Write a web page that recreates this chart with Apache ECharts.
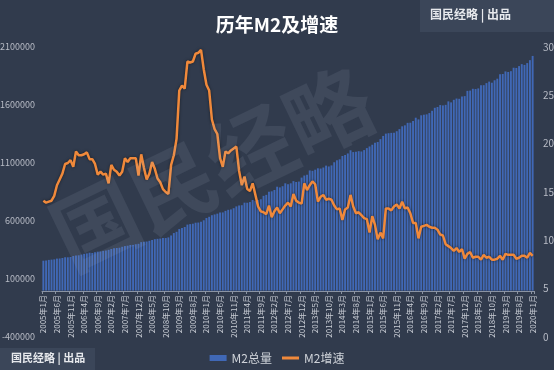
<!DOCTYPE html>
<html>
<head>
<meta charset="utf-8">
<script src="https://cdn.jsdelivr.net/npm/echarts@6/dist/echarts.min.js"></script>
<style>
html,body{margin:0;padding:0;background:#313b4d;}
#chart{width:554px;height:370px;}
</style>
</head>
<body>
<div id="chart"></div>
<script>
// Month labels 2005年1月 .. 2020年1月
const startYear = 2005, endYear = 2020;
const categories = [];
for (let y = startYear; y <= endYear; y++) {
  for (let m = 1; m <= 12; m++) {
    if (y === endYear && m > 1) break;
    categories.push(y + '年' + m + '月');
  }
}

// M2 总量 (亿元), monthly 2005-01 .. 2020-01
const m2Total = [
  257709,259358,264589,266992,269240,275786,276966,281287,287438,286973,289524,298756,
  303572,304516,310491,316710,320590,326660,324011,331565,335831,337504,342136,345604,
  351499,358659,364105,367326,369718,377832,383885,387205,393099,394204,399758,403442,
  417846,421038,423055,429314,436222,443141,446362,448847,452899,453133,458645,475167,
  496135,506708,530627,540481,548264,568916,573103,576698,585405,586643,594605,606225,
  625609,636072,649948,656561,663351,673922,674052,687507,696472,699777,710339,725852,
  733885,736131,758131,757385,763409,780821,772924,780852,787406,816829,825494,851591,
  855899,867171,895566,889604,900049,924991,917321,924895,943689,936404,940012,974149,
  992129,998601,1035858,1032552,1042169,1054404,1052212,1061256,1077379,1070242,1079258,1106525,
  1123521,1131761,1160687,1168813,1182300,1209587,1194249,1197499,1202051,1199236,1211337,1228375,
  1242710,1257384,1275333,1280778,1305868,1333375,1353211,1356908,1359824,1361022,1373956,1392278,
  1416320,1424619,1446198,1447359,1461695,1490492,1475996,1511223,1516361,1519473,1530359,1550067,
  1575946,1582906,1599610,1596331,1601381,1631283,1622631,1644558,1655662,1653437,1672964,1676769,
  1722103,1724326,1739860,1737682,1743064,1770178,1770968,1788670,1801665,1792113,1813164,1826744,
  1865935,1867428,1889412,1884670,1891554,1921360,1919411,1935492,1952251,1945601,1961417,1986489,
  2023067
];

// M2 增速 (%), monthly 2005-01 .. 2020-01
const m2Growth = [
  14.1,13.9,14.0,14.1,14.6,15.7,16.3,16.9,17.9,18.0,18.3,17.6,
  19.2,18.8,18.8,18.9,19.1,18.4,18.4,17.9,16.8,17.1,16.8,16.9,
  15.9,17.8,17.3,17.1,16.7,17.1,18.5,18.1,18.5,18.5,18.5,16.7,
  18.9,17.5,16.3,16.9,18.1,17.4,16.4,16.0,15.3,15.0,14.8,17.8,
  18.8,20.5,25.5,26.0,25.7,28.5,28.4,28.5,29.3,29.4,29.7,27.7,
  26.1,25.5,22.5,21.5,21.0,18.5,17.6,19.2,19.0,19.3,19.5,19.7,
  17.2,15.7,16.6,15.3,15.1,15.9,14.7,13.5,13.0,12.9,12.7,13.6,
  12.4,13.0,13.4,12.8,13.2,13.6,13.9,13.5,14.8,14.1,13.9,13.8,
  15.9,15.2,15.7,16.1,15.8,14.0,14.5,14.7,14.2,14.3,14.2,13.6,
  13.2,13.3,12.1,13.2,13.4,14.7,13.5,12.8,12.9,12.6,12.3,12.2,
  10.8,12.5,11.6,10.1,10.8,10.2,13.3,13.3,13.1,13.5,13.7,13.3,
  14.0,13.3,13.4,12.8,11.8,11.8,10.2,11.4,11.5,11.6,11.4,11.3,
  11.3,11.1,10.6,10.5,9.6,9.4,9.2,8.9,9.2,8.8,9.1,8.1,
  8.6,8.8,8.2,8.3,8.3,8.0,8.5,8.2,8.3,8.0,8.0,8.1,
  8.4,8.0,8.6,8.5,8.5,8.5,8.1,8.2,8.4,8.4,8.2,8.7,
  8.4
];

const seriesNames = ['M2总量', 'M2增速'];
const titleText = '历年M2及增速';
const brandText = '国民经略 | 出品';
const watermarkText = '国民经略';

const chart = echarts.init(document.getElementById('chart'));
const font = '"Noto Sans CJK SC", sans-serif';

chart.setOption({
  backgroundColor: '#313b4d',
  animation: false,
  textStyle: { fontFamily: font },
  title: {
    text: titleText,
    left: 'center',
    top: 10,
    textStyle: { color: '#ffffff', fontSize: 19, fontWeight: 'bold', fontFamily: font }
  },
  graphic: [
    { type: 'rect', left: 420, top: 0, shape: { width: 134, height: 32 }, style: { fill: '#3b4659' }, z: 0 },
    { type: 'text', left: 430, top: 8, style: { text: brandText, fill: '#e6e8ec', font: 'bold 12px "Noto Sans CJK SC"' }, z: 1 },
    { type: 'rect', left: 0, top: 348, shape: { width: 95, height: 22 }, style: { fill: '#3b4659' }, z: 0 },
    { type: 'text', left: 11, top: 352, style: { text: brandText, fill: '#e6e8ec', font: 'bold 11px "Noto Sans CJK SC"' }, z: 1 },
    { type: 'text', x: 212, y: 168, rotation: 0.45,
      style: { text: watermarkText, fill: 'rgba(190,200,215,0.10)', font: 'bold 86px "Noto Sans CJK SC"',
               align: 'center', verticalAlign: 'middle' }, z: 100, silent: true }
  ],
  legend: {
    data: [
      { name: seriesNames[0], icon: 'rect' },
      { name: seriesNames[1], icon: 'path://M0,0 L17,0 L17,3 L0,3 Z', itemStyle: { color: '#f0893b' } }
    ],
    left: 'center',
    top: 347,
    itemWidth: 17,
    itemHeight: 6,
    itemGap: 10,
    symbolKeepAspect: true,
    textStyle: { color: '#d0d4da', fontSize: 12, fontFamily: font }
  },
  grid: { left: 42, right: 20, top: 47, bottom: 33, containLabel: false, outerBoundsMode: 'none' },
  xAxis: {
    type: 'category',
    data: categories,
    offset: -46,
    axisLine: { onZero: false, lineStyle: { color: '#8a93a3', width: 1 } },
    axisTick: { show: true, interval: 4, length: 3, lineStyle: { color: '#8a93a3' } },
    axisLabel: {
      interval: 4,
      rotate: 90,
      fontSize: 8,
      margin: 4,
      color: '#c8ccd4',
      fontFamily: font
    }
  },
  yAxis: [
    {
      type: 'value',
      min: -400000,
      max: 2100000,
      interval: 500000,
      splitLine: { show: false },
      axisLine: { show: false },
      axisTick: { show: false },
      axisLabel: { fontSize: 9, color: '#b8bcc6', margin: 7, fontFamily: font,
                   formatter: function (v) { return String(v); } }
    },
    {
      type: 'value',
      min: 0,
      max: 30,
      interval: 5,
      splitLine: { show: false },
      axisLine: { show: false },
      axisTick: { show: false },
      axisLabel: { fontSize: 10, color: '#b8bcc6', margin: 9, fontFamily: font }
    }
  ],
  series: [
    {
      name: seriesNames[0],
      type: 'bar',
      yAxisIndex: 0,
      data: m2Total,
      barCategoryGap: '30%',
      itemStyle: { color: '#4068b6' }
    },
    {
      name: seriesNames[1],
      type: 'line',
      yAxisIndex: 1,
      data: m2Growth,
      symbol: 'none',
      lineStyle: { color: '#f0893b', width: 2.5, shadowColor: 'rgba(0,0,0,0.5)', shadowBlur: 3 },
      itemStyle: { color: '#f0893b' },
      z: 3
    }
  ]
});
</script>
</body>
</html>
